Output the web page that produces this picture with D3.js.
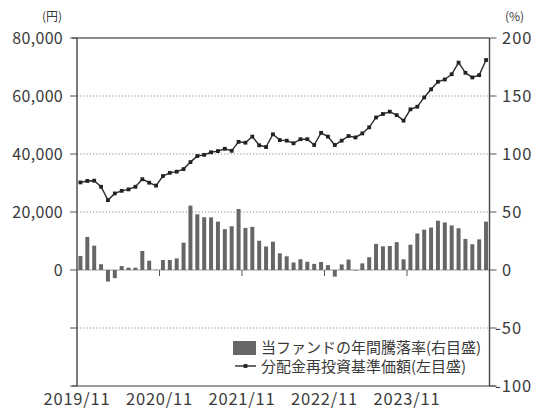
<!DOCTYPE html>
<meta charset="utf-8">
<style>
body { margin: 0; background: #fff; }
text { font-family: "Noto Sans CJK JP", "Noto Sans", sans-serif; fill: #3a3a3a; }
.grid { stroke: #8a8a8a; stroke-dasharray: 1.2,2; }
</style>
<svg width="537" height="410"></svg>
<script src="https://cdn.jsdelivr.net/npm/d3@7"></script>
<script>

// months: 2019/11 .. 2024/10
const months = d3.range(60).map(i => {
  const m = (10 + i) % 12 + 1, y = 2019 + Math.floor((10 + i) / 12);
  return y + "/" + (m < 10 ? "0" + m : m);
});

// 分配金再投資基準価額 (円, left axis)
const navValues = [
  30200, 30700, 30800, 28700, 24100, 26400, 27300, 27800, 28700, 31300,
  30100, 29100, 32400, 33500, 33900, 34800, 37200, 39300, 39700, 40600,
  41000, 41800, 41100, 44200, 43900, 46000, 43000, 42400, 46800, 44800,
  44600, 43700, 45100, 45100, 43100, 47300, 46000, 43100, 44600, 46200,
  45700, 47100, 49200, 52600, 53800, 54600, 53400, 51500, 55400, 56300,
  59500, 62300, 64900, 65700, 67500, 71500, 68000, 66400, 67200, 72400
];

// 当ファンドの年間騰落率 (%, right axis)
const returnValues = [
  12, 28.5, 21, 5, -10, -7, 3.4, 2, 2, 16.4,
  8, 0.3, 8.6, 8.6, 10, 23.6, 55.5, 48, 45.5, 45.4,
  41.7, 35.2, 37.7, 52.6, 36.3, 37.2, 25.2, 20.3, 24.4, 14.4,
  11.8, 6.5, 9.3, 7.1, 5.3, 6.9, 4.2, -5.7, 4.8, 9,
  -0.5, 5.7, 11, 22.5, 20.4, 20.7, 24, 9.2, 21.8, 31.5,
  34.8, 36.6, 42.5, 41, 38.4, 36, 26.8, 22.2, 26.4, 41.7
];

const leftTicks = [0, 20000, 40000, 60000, 80000];
const rightTicks = [-100, -50, 0, 50, 100, 150, 200];
const yearLabels = ["2019/11", "2020/11", "2021/11", "2022/11", "2023/11"];
const legendLabels = ["当ファンドの年間騰落率(右目盛)", "分配金再投資基準価額(左目盛)"];

const svg = d3.select("svg");
const plotLeft = 77, plotRight = 489.5, plotTop = 38, plotBottom = 386;

const x = d3.scaleBand().domain(months).range([plotLeft, plotRight]).paddingInner(0.42).paddingOuter(0.21);
const step = x.step();
const gap = (step - x.bandwidth()) / 2;
const yL = d3.scaleLinear().domain([-40000, 80000]).range([plotBottom, plotTop]);
const yR = d3.scaleLinear().domain([-100, 200]).range([plotBottom, plotTop]);

// dotted gridlines
svg.append("g").selectAll("line")
  .data(rightTicks.filter(d => d !== 0 && d !== 200 && d !== -100))
  .enter().append("line")
    .attr("class", "grid")
    .attr("x1", plotLeft).attr("x2", plotRight)
    .attr("y1", d => yR(d)).attr("y2", d => yR(d));

// zero line
svg.append("line")
  .attr("x1", plotLeft).attr("x2", plotRight)
  .attr("y1", yR(0)).attr("y2", yR(0))
  .attr("stroke", "#9a9a9a");

// bars
svg.append("g").selectAll("rect")
  .data(returnValues)
  .enter().append("rect")
    .attr("x", (d, i) => x(months[i]))
    .attr("width", x.bandwidth())
    .attr("y", d => yR(Math.max(0, d)))
    .attr("height", d => Math.abs(yR(d) - yR(0)))
    .attr("fill", "#666");

// year ticks on the zero line
svg.append("g").selectAll("line")
  .data(months.filter(m => m.endsWith("/11") && m !== "2019/11"))
  .enter().append("line")
    .attr("x1", d => x(d) - gap)
    .attr("x2", d => x(d) - gap)
    .attr("y1", yR(0)).attr("y2", yR(0) + 6)
    .attr("stroke", "#555");

// NAV line
const line = d3.line()
  .x((d, i) => x(months[i]) + x.bandwidth() / 2)
  .y(d => yL(d));

svg.append("path")
  .datum(navValues)
  .attr("d", line)
  .attr("fill", "none")
  .attr("stroke", "#2a2a2a")
  .attr("stroke-width", 1.4);

svg.append("g").selectAll("rect")
  .data(navValues)
  .enter().append("rect")
    .attr("x", (d, i) => x(months[i]) + x.bandwidth() / 2 - 1.9)
    .attr("y", d => yL(d) - 1.9)
    .attr("width", 3.8).attr("height", 3.8)
    .attr("fill", "#222");

// frame
svg.append("line").attr("x1", plotLeft - 5).attr("x2", plotRight).attr("y1", plotTop).attr("y2", plotTop)
  .attr("stroke", "#8c8c8c").attr("stroke-width", 2);
svg.append("line").attr("x1", plotLeft - 5).attr("x2", plotRight + 6).attr("y1", plotBottom).attr("y2", plotBottom)
  .attr("stroke", "#7a7a7a").attr("stroke-width", 1.6);
svg.append("line").attr("x1", plotLeft).attr("x2", plotLeft).attr("y1", plotTop).attr("y2", plotBottom)
  .attr("stroke", "#444").attr("stroke-width", 1.4);
svg.append("line").attr("x1", plotRight).attr("x2", plotRight).attr("y1", plotTop).attr("y2", plotBottom)
  .attr("stroke", "#444").attr("stroke-width", 1.4);

// left axis ticks and labels
svg.append("g").selectAll("line")
  .data(rightTicks)
  .enter().append("line")
    .attr("x1", plotLeft - 7).attr("x2", plotLeft)
    .attr("y1", d => yR(d)).attr("y2", d => yR(d))
    .attr("stroke", "#555");

svg.append("g").selectAll("text")
  .data(leftTicks)
  .enter().append("text")
    .attr("x", 63)
    .attr("y", d => yL(d))
    .attr("dy", "0.36em")
    .attr("text-anchor", "end")
    .attr("font-size", 16)
    .attr("letter-spacing", 0.3)
    .text(d => d3.format(",")(d));

// right axis ticks and labels
svg.append("g").selectAll("line")
  .data(rightTicks)
  .enter().append("line")
    .attr("x1", plotRight).attr("x2", plotRight + 7)
    .attr("y1", d => yR(d)).attr("y2", d => yR(d))
    .attr("stroke", "#555");

svg.append("g").selectAll("text")
  .data(rightTicks)
  .enter().append("text")
    .attr("x", d => d < 0 ? 495 : 502)
    .attr("y", d => yR(d))
    .attr("dy", "0.36em")
    .attr("font-size", 16.5)
    .attr("letter-spacing", 1)
    .text(d => d);

// units
svg.append("text").attr("x", 62).attr("y", 21).attr("text-anchor", "end")
  .attr("font-size", 12).text("(円)");
svg.append("text").attr("x", 505).attr("y", 21)
  .attr("font-size", 12).text("(%)");

// x labels
svg.append("g").selectAll("text")
  .data(yearLabels)
  .enter().append("text")
    .attr("x", d => x(d) - gap)
    .attr("y", 405)
    .attr("text-anchor", "middle")
    .attr("font-size", 16.5)
    .attr("letter-spacing", 0.8)
    .text(d => d);

// legend
const lg = svg.append("g").attr("transform", "translate(233,341)");
lg.append("rect").attr("width", 23).attr("height", 14).attr("fill", "#666");
lg.append("line").attr("x1", 2).attr("x2", 23).attr("y1", 25).attr("y2", 25)
  .attr("stroke", "#2a2a2a").attr("stroke-width", 1.4);
lg.append("rect").attr("x", 10.6).attr("y", 23.1).attr("width", 3.8).attr("height", 3.8).attr("fill", "#222");
lg.selectAll("text")
  .data(legendLabels)
  .enter().append("text")
    .attr("x", 28)
    .attr("y", (d, i) => 6.5 + i * 19)
    .attr("dy", "0.36em")
    .attr("font-size", 15)
    .attr("fill", "#4a4a4a")
    .text(d => d);

</script>
